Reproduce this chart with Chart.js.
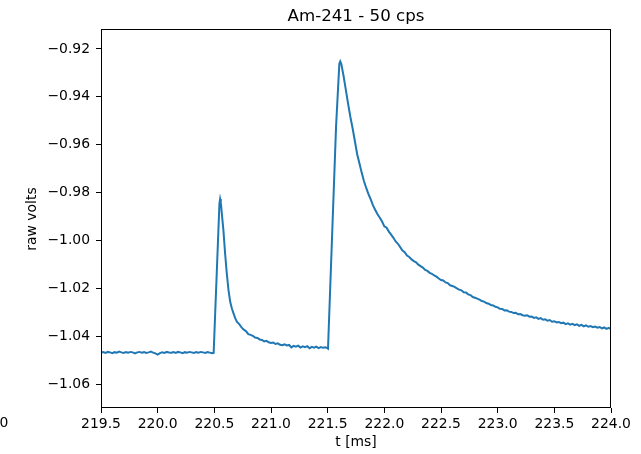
<!DOCTYPE html>
<html>
<head>
<meta charset="utf-8">
<script src="https://cdn.jsdelivr.net/npm/chart.js@4/dist/chart.umd.min.js"></script>
<style>
  html, body { margin: 0; padding: 0; background: #fff; }
  #wrap { width: 641px; height: 454px; }
</style>
</head>
<body>
<div id="wrap"><canvas id="c" width="641" height="454"></canvas></div>
<script>
// Trace of a detector pulse pair, Am-241 source at 50 cps
const chartTitle = 'Am-241 - 50 cps';
const xLabel = 't [ms]';
const yLabel = 'raw volts';

const xTicks = [219.5, 220.0, 220.5, 221.0, 221.5, 222.0, 222.5, 223.0, 223.5, 224.0];
const yTicks = [-1.06, -1.04, -1.02, -1.00, -0.98, -0.96, -0.94, -0.92];
// stray label fragment sitting at the far left of the tick row
const edgeLabelText = '0';
const edgeLabelAt = 218.643;

// baseline before the first pulse
const tBase = [219.50,219.52,219.54,219.56,219.58,219.60,219.62,219.64,219.66,219.68,
               219.70,219.72,219.74,219.76,219.78,219.80,219.82,219.84,219.86,219.88,
               219.90,219.92,219.94,219.96,219.98,220.00,220.02,220.04,220.06,220.08,
               220.10,220.12,220.14,220.16,220.18,220.20,220.22,220.24,220.26,220.28,
               220.30,220.32,220.34,220.36,220.38,220.40,220.42,220.44,220.46,220.48];
const vBase = [-1.0467,-1.0465,-1.0468,-1.0464,-1.0466,-1.0469,-1.0465,-1.0467,-1.0463,-1.0466,
               -1.0468,-1.0465,-1.0467,-1.0464,-1.0466,-1.0470,-1.0466,-1.0464,-1.0467,-1.0465,
               -1.0468,-1.0466,-1.0463,-1.0467,-1.0470,-1.0475,-1.0469,-1.0466,-1.0468,-1.0464,
               -1.0466,-1.0467,-1.0465,-1.0468,-1.0464,-1.0466,-1.0469,-1.0465,-1.0467,-1.0464,
               -1.0466,-1.0468,-1.0465,-1.0467,-1.0464,-1.0466,-1.0468,-1.0465,-1.0467,-1.0469];

// first pulse: rise, peak and fast decay
const tPulse1 = [220.494,220.545,220.551,220.557,220.566,220.580,220.595,220.610,220.625,220.640,
                 220.655,220.670,220.685,220.700];
const vPulse1 = [-1.0468,-0.9845,-0.9826,-0.9840,-0.9886,-0.9956,-1.0053,-1.0137,-1.0206,-1.0255,
                 -1.0283,-1.0304,-1.0324,-1.0339];

// slow return toward baseline between pulses
const tGap = [220.72,220.74,220.76,220.78,220.80,220.82,220.84,220.86,220.88,220.90,
              220.92,220.94,220.96,220.98,221.00,221.02,221.04,221.06,221.08,221.10,
              221.12,221.14,221.16,221.18,221.20,221.22,221.24,221.26,221.28,221.30,
              221.32,221.34,221.36,221.38,221.40,221.42,221.44,221.46,221.48,221.50];
const vGap = [-1.0348,-1.0362,-1.0371,-1.0378,-1.0390,-1.0393,-1.0397,-1.0404,-1.0406,-1.0412,
              -1.0414,-1.0420,-1.0418,-1.0424,-1.0427,-1.0425,-1.0431,-1.0428,-1.0434,-1.0436,
              -1.0432,-1.0437,-1.0435,-1.0445,-1.0439,-1.0442,-1.0438,-1.0446,-1.0441,-1.0444,
              -1.0440,-1.0449,-1.0443,-1.0446,-1.0442,-1.0448,-1.0444,-1.0447,-1.0445,-1.0449];

// second pulse: rise and peak
const tPulse2 = [221.503,221.574,221.603,221.611];
const vPulse2 = [-1.0450,-0.9524,-0.9262,-0.9252];

// long decay tail of the second pulse
const tTail = [221.62,221.64,221.66,221.68,221.70,221.72,221.74,221.76,221.78,221.80,
               221.82,221.84,221.86,221.88,221.90,221.92,221.94,221.96,221.98,222.00,
               222.02,222.04,222.06,222.08,222.10,222.12,222.14,222.16,222.18,222.20,
               222.22,222.24,222.26,222.28,222.30,222.32,222.34,222.36,222.38,222.40,
               222.42,222.44,222.46,222.48,222.50,222.52,222.54,222.56,222.58,222.60,
               222.62,222.64,222.66,222.68,222.70,222.72,222.74,222.76,222.78,222.80,
               222.82,222.84,222.86,222.88,222.90,222.92,222.94,222.96,222.98,223.00,
               223.02,223.04,223.06,223.08,223.10,223.12,223.14,223.16,223.18,223.20,
               223.22,223.24,223.26,223.28,223.30,223.32,223.34,223.36,223.38,223.40,
               223.42,223.44,223.46,223.48,223.50,223.52,223.54,223.56,223.58,223.60,
               223.62,223.64,223.66,223.68,223.70,223.72,223.74,223.76,223.78,223.80,
               223.82,223.84,223.86,223.88,223.90,223.92,223.94,223.96,223.98,224.00];
const vTail = [-0.9262,-0.9312,-0.9370,-0.9428,-0.9483,-0.9531,-0.9584,-0.9638,-0.9677,-0.9716,
               -0.9751,-0.9780,-0.9806,-0.9828,-0.9853,-0.9872,-0.9890,-0.9904,-0.9920,-0.9940,
               -0.9946,-0.9962,-0.9975,-0.9988,-1.0003,-1.0013,-1.0027,-1.0041,-1.0048,-1.0062,
               -1.0068,-1.0078,-1.0085,-1.0090,-1.0100,-1.0106,-1.0112,-1.0122,-1.0126,-1.0134,
               -1.0138,-1.0145,-1.0150,-1.0158,-1.0164,-1.0166,-1.0174,-1.0177,-1.0186,-1.0189,
               -1.0193,-1.0199,-1.0204,-1.0207,-1.0215,-1.0216,-1.0224,-1.0227,-1.0235,-1.0238,
               -1.0242,-1.0246,-1.0252,-1.0254,-1.0260,-1.0263,-1.0268,-1.0270,-1.0276,-1.0278,
               -1.0284,-1.0285,-1.0291,-1.0290,-1.0296,-1.0297,-1.0302,-1.0301,-1.0307,-1.0306,
               -1.0311,-1.0313,-1.0311,-1.0317,-1.0316,-1.0322,-1.0320,-1.0326,-1.0323,-1.0330,
               -1.0328,-1.0334,-1.0331,-1.0338,-1.0336,-1.0341,-1.0339,-1.0344,-1.0342,-1.0348,
               -1.0345,-1.0350,-1.0347,-1.0352,-1.0349,-1.0355,-1.0351,-1.0357,-1.0353,-1.0359,
               -1.0356,-1.0361,-1.0358,-1.0363,-1.0360,-1.0366,-1.0362,-1.0368,-1.0364,-1.0369];

const times = [...tBase, ...tPulse1, ...tGap, ...tPulse2, ...tTail];
const volts = [...vBase, ...vPulse1, ...vGap, ...vPulse2, ...vTail];
const points = times.map((t, i) => ({ x: t, y: volts[i] }));

const FONT = 'DejaVu Sans';
const tickFont = { family: FONT, size: 13.9 };
const fmtY = v => (v < 0 ? '\u2212' : '') + Math.abs(v).toFixed(2);

// frame, title and the label fragment left of the axes
const decorations = {
  id: 'decorations',
  afterDraw(chart) {
    const { ctx, chartArea: ca } = chart;
    ctx.save();
    ctx.strokeStyle = '#000';
    ctx.lineWidth = 1;
    ctx.strokeRect(ca.left + 0.5, ca.top - 0.5, ca.right - ca.left - 1, ca.bottom - ca.top);

    ctx.fillStyle = '#000';
    ctx.font = '16.67px "' + FONT + '"';
    ctx.textAlign = 'center';
    ctx.textBaseline = 'alphabetic';
    ctx.fillText(chartTitle, (ca.left + ca.right) / 2, 21);

    const xs = chart.scales.x;
    ctx.font = tickFont.size + 'px "' + FONT + '"';
    ctx.textBaseline = 'top';
    ctx.fillText(edgeLabelText, xs.getPixelForValue(edgeLabelAt), ca.bottom + 5 + 3);
    ctx.restore();
  }
};

new Chart(document.getElementById('c'), {
  type: 'line',
  data: {
    datasets: [{
      data: points,
      borderColor: '#1f77b4',
      borderWidth: 2,
      pointRadius: 0,
      fill: false,
      tension: 0
    }]
  },
  options: {
    responsive: false,
    devicePixelRatio: 1,
    animation: false,
    layout: { padding: { left: 0, right: 30, top: 30, bottom: 0 } },
    plugins: { legend: { display: false }, title: { display: false }, tooltip: { enabled: false } },
    scales: {
      x: {
        type: 'linear',
        min: 219.5,
        max: 224.0,
        afterBuildTicks: s => { s.ticks = xTicks.map(v => ({ value: v })); },
        afterFit: s => { s.height = 46; },
        ticks: {
          callback: v => Number(v).toFixed(1),
          font: tickFont, color: '#000', padding: 3,
          maxRotation: 0, autoSkip: false
        },
        grid: { drawOnChartArea: false, drawTicks: true, tickLength: 5, tickColor: '#000', tickWidth: 1 },
        border: { display: false },
        title: { display: true, text: xLabel, font: tickFont, color: '#000', padding: { top: 0, bottom: 3 } }
      },
      y: {
        type: 'linear',
        min: -1.0698,
        max: -0.9121,
        afterBuildTicks: s => { s.ticks = yTicks.map(v => ({ value: v })); },
        afterFit: s => { s.width = 101; },
        ticks: {
          callback: v => fmtY(v),
          font: tickFont, color: '#000', padding: 6, autoSkip: false
        },
        grid: { drawOnChartArea: false, drawTicks: true, tickLength: 5, tickColor: '#000', tickWidth: 1 },
        border: { display: false },
        title: { display: true, text: yLabel, font: tickFont, color: '#000', padding: { top: 24, bottom: 0 } }
      }
    }
  },
  plugins: [decorations]
});
</script>
</body>
</html>
